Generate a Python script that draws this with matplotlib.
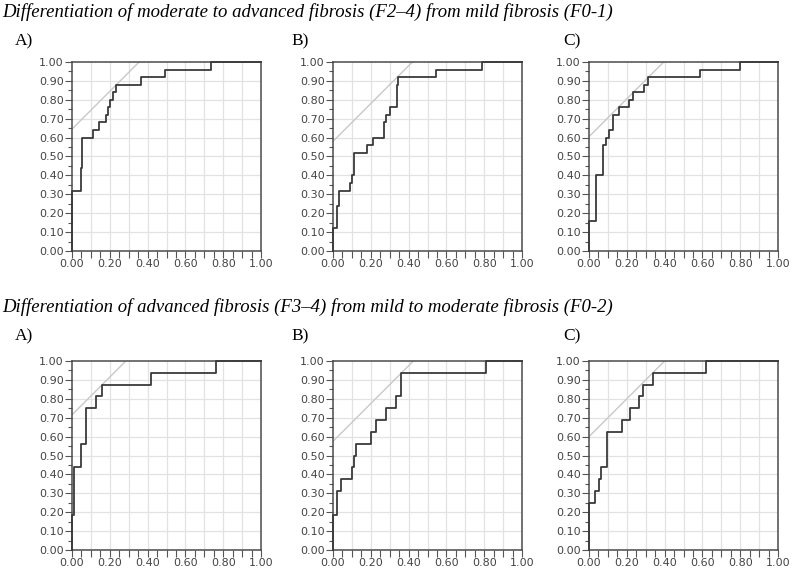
import matplotlib.pyplot as plt
import numpy as np

# ROC step curves: (1 - specificity, sensitivity)
top_a_fpr = [0, 0, 0.046, 0.055, 0.111, 0.143, 0.178, 0.19, 0.20, 0.217, 0.231, 0.367, 0.494, 0.735, 1.0]
top_a_tpr = [0, 0.32, 0.44, 0.60, 0.64, 0.68, 0.72, 0.76, 0.80, 0.84, 0.88, 0.92, 0.96, 1.00, 1.00]

top_b_fpr = [0, 0, 0.023, 0.034, 0.09, 0.10, 0.113, 0.178, 0.21, 0.27, 0.279, 0.30, 0.337, 0.346, 0.546, 0.79, 1.0]
top_b_tpr = [0, 0.12, 0.24, 0.32, 0.36, 0.40, 0.52, 0.56, 0.60, 0.68, 0.72, 0.76, 0.88, 0.92, 0.96, 1.00, 1.00]

top_c_fpr = [0, 0, 0.037, 0.072, 0.09, 0.104, 0.129, 0.16, 0.213, 0.235, 0.293, 0.314, 0.588, 0.80, 1.0]
top_c_tpr = [0, 0.16, 0.40, 0.56, 0.60, 0.64, 0.72, 0.76, 0.80, 0.84, 0.88, 0.92, 0.96, 1.00, 1.00]

bot_a_fpr = [0, 0, 0.009, 0.049, 0.072, 0.129, 0.161, 0.417, 0.76, 1.0]
bot_a_tpr = [0, 0.1875, 0.4375, 0.5625, 0.75, 0.8125, 0.875, 0.9375, 1.0, 1.0]

bot_b_fpr = [0, 0, 0.019, 0.04, 0.10, 0.11, 0.12, 0.203, 0.23, 0.283, 0.332, 0.362, 0.809, 1.0]
bot_b_tpr = [0, 0.1875, 0.3125, 0.375, 0.4375, 0.5, 0.5625, 0.625, 0.6875, 0.75, 0.8125, 0.9375, 1.0, 1.0]

bot_c_fpr = [0, 0, 0.03, 0.051, 0.065, 0.095, 0.174, 0.215, 0.264, 0.285, 0.338, 0.62, 1.0]
bot_c_tpr = [0, 0.25, 0.3125, 0.375, 0.4375, 0.625, 0.6875, 0.75, 0.8125, 0.875, 0.9375, 1.0, 1.0]

# intercepts of the 45 degree gray lines
top_icpt = [0.645, 0.58, 0.605]
bot_icpt = [0.715, 0.575, 0.60]

panel_names = ["A)", "B)", "C)"]
title_top = "Differentiation of moderate to advanced fibrosis (F2\u20134) from mild fibrosis (F0-1)"
title_bot = "Differentiation of advanced fibrosis (F3\u20134) from mild to moderate fibrosis (F0-2)"

W, H = 795, 572
fig = plt.figure(figsize=(W / 100, H / 100), dpi=100)

col_left = [72, 333, 589]
row_top = [62, 361]
size = 189
label_x = [15, 291, 563]
label_y = [41, 336]


def draw_panel(ax, fpr, tpr, icpt):
    ax.set_xlim(0, 1)
    ax.set_ylim(0, 1)
    ax.set_xticks(np.arange(0, 1.01, 0.2))
    ax.set_xticks(np.arange(0, 1.01, 0.05), minor=True)
    ax.set_yticks(np.arange(0, 1.01, 0.1))
    ax.set_yticks(np.arange(0, 1.01, 0.05), minor=True)
    ax.set_xticklabels(["%.2f" % v for v in np.arange(0, 1.01, 0.2)])
    ax.set_yticklabels(["%.2f" % v for v in np.arange(0, 1.01, 0.1)])
    for v in np.arange(0.1, 1.0, 0.1):
        ax.axvline(v, color="#e2e2e2", lw=0.9, zorder=0)
        ax.axhline(v, color="#e2e2e2", lw=0.9, zorder=0)
    ax.tick_params(axis="both", which="major", direction="out", length=5, width=0.8,
                   colors="#555555", labelsize=8, labelcolor="#444444", pad=1)
    ax.tick_params(axis="x", which="minor", direction="out", length=5, width=0.8, colors="#555555")
    ax.tick_params(axis="y", which="minor", direction="out", length=3, width=0.8, colors="#555555")
    for s in ax.spines.values():
        s.set_color("#4a4a4a")
        s.set_linewidth(1.1)
    ax.plot([0, 1 - icpt], [icpt, 1.0], color="#c8c8c8", lw=1.0, zorder=2)
    ax.step(fpr, tpr, where="post", color="#3a3a3a", lw=1.3, zorder=3, clip_on=False)


curves = [
    [(top_a_fpr, top_a_tpr), (top_b_fpr, top_b_tpr), (top_c_fpr, top_c_tpr)],
    [(bot_a_fpr, bot_a_tpr), (bot_b_fpr, bot_b_tpr), (bot_c_fpr, bot_c_tpr)],
]
icpts = [top_icpt, bot_icpt]

for r in range(2):
    for c in range(3):
        ax = fig.add_axes([col_left[c] / W, 1 - (row_top[r] + size) / H, size / W, size / H])
        draw_panel(ax, curves[r][c][0], curves[r][c][1], icpts[r][c])
        fig.text(label_x[c] / W, 1 - label_y[r] / H, panel_names[c], family="Liberation Serif",
                 fontsize=12.5, va="center", ha="left")

fig.text(2 / W, 1 - 12 / H, title_top, family="Liberation Serif", style="italic",
         fontsize=13.5, va="center", ha="left")
fig.text(2 / W, 1 - 307 / H, title_bot, family="Liberation Serif", style="italic",
         fontsize=13.5, va="center", ha="left")

fig.savefig("out.png", dpi=100)
